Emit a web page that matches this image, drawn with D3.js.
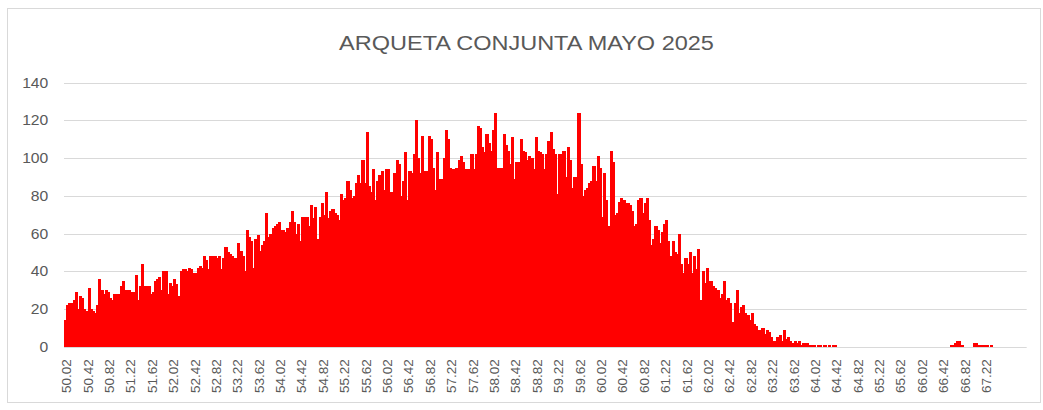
<!DOCTYPE html>
<html>
<head>
<meta charset="utf-8">
<script src="https://cdn.jsdelivr.net/npm/d3@7"></script>
<style>
  body { margin: 0; background: #fff; }
  text { font-family: "Liberation Sans", Arial, sans-serif; fill: #595959; }
</style>
</head>
<body>
<script>
const chartTitle = "ARQUETA CONJUNTA MAYO 2025";

// bins of 0.04 starting at 50.02 (counts)
const firstBin = 50.02, binStep = 0.04;
const counts = [
  14,22,23,23,25,29,20,27,26,20,
  19,31,20,19,18,22,36,30,28,30,
  29,26,25,28,28,28,32,35,30,30,
  30,29,29,38,25,32,44,32,32,32,
  28,29,35,36,37,30,40,40,28,34,
  32,36,33,27,40,41,41,40,42,41,
  39,39,42,43,42,48,46,41,48,48,
  48,47,48,41,47,53,50,49,48,47,
  47,55,51,48,40,62,58,56,42,57,
  59,51,54,56,71,58,60,63,64,65,
  66,62,62,61,63,66,72,66,60,65,
  56,69,69,69,64,75,68,74,57,69,
  76,70,82,68,72,73,71,70,67,81,
  78,79,88,83,79,80,87,91,87,99,
  87,114,85,82,94,78,88,91,93,83,
  94,94,82,82,92,99,97,80,88,103,
  78,93,92,102,120,100,92,112,93,93,
  112,110,95,83,103,89,89,100,115,110,
  95,94,94,95,99,101,98,94,94,94,
  102,94,102,117,116,106,103,113,108,104,
  115,124,95,95,95,113,107,104,97,111,
  89,98,98,110,104,103,99,101,100,94,
  111,104,103,102,94,102,109,114,105,102,
  81,102,102,104,90,106,99,84,90,90,
  124,97,80,83,84,87,88,96,88,101,
  95,69,92,78,64,104,98,70,71,77,
  79,78,76,76,75,72,64,65,78,79,
  71,76,79,67,54,57,64,62,55,61,
  65,67,56,48,56,50,49,60,44,39,
  47,44,50,39,48,41,52,25,40,34,
  42,35,35,32,31,30,26,28,35,25,
  26,23,13,23,30,18,21,22,18,17,
  14,18,12,11,9,9,10,7,9,8,
  5,3,3,5,6,3,9,4,5,3,
  2,3,2,3,1,2,2,2,1,1,
  1,0,1,1,0,1,0,1,0,1,
  1,0,0,0,0,0,0,0,0,0,
  0,0,0,0,0,0,0,0,0,0,
  0,0,0,0,0,0,0,0,0,0,
  0,0,0,0,0,0,0,0,0,0,
  0,0,0,0,0,0,0,0,0,0,
  0,0,0,0,1,1,2,3,3,1,
  0,0,0,0,0,2,2,1,1,1,
  1,1,0,1,0,0,0,0,0,0,
  0,0,0,0,0,0,0,0,0,0
];

const tickLabels = [
  "50.02","50.42","50.82","51.22","51.62","52.02","52.42","52.82","53.22","53.62","54.02",
  "54.42","54.82","55.22","55.62","56.02","56.42","56.82","57.22","57.62","58.02","58.42",
  "58.82","59.22","59.62","60.02","60.42","60.82","61.22","61.62","62.02","62.42","62.82",
  "63.22","63.62","64.02","64.42","64.82","65.22","65.62","66.02","66.42","66.82","67.22"
];
const yTicks = [0, 20, 40, 60, 80, 100, 120, 140];

const categories = counts.map((d, i) => (firstBin + i * binStep).toFixed(2));
const data = categories.map((c, i) => ({ bin: c, n: counts[i] }));

const width = 1043, height = 410;
const plotLeft = 64, plotRight = 1026.7, plotTop = 82.7, plotBottom = 346.7;
const stretch = 1.12; // text in the picture is a bit wider than the font

let svg = d3.select("body")
  .append("svg")
  .attr("width", width)
  .attr("height", height);

// chart frame
svg.append("rect")
  .attr("x", 7.5).attr("y", 8.5)
  .attr("width", 1033).attr("height", 394)
  .attr("fill", "#fff")
  .attr("stroke", "#d9d9d9");

const x = d3.scaleBand()
  .domain(categories)
  .range([plotLeft, plotRight])
  .padding(0);

const y = d3.scaleLinear()
  .domain([0, 140])
  .range([plotBottom, plotTop]);

// gridlines
svg.append("g")
  .selectAll("line")
  .data(yTicks)
  .enter()
  .append("line")
  .attr("x1", plotLeft).attr("x2", plotRight)
  .attr("y1", d => Math.round(y(d)) + 0.5).attr("y2", d => Math.round(y(d)) + 0.5)
  .attr("stroke", "#d9d9d9")
  .attr("stroke-width", 1);

// bars
svg.append("g")
  .attr("shape-rendering", "crispEdges")
  .selectAll("rect")
  .data(data.filter(d => d.n > 0))
  .enter()
  .append("rect")
  .attr("x", d => x(d.bin))
  .attr("width", x.bandwidth() + 1)
  .attr("y", d => y(d.n))
  .attr("height", d => y(0) - y(d.n))
  .attr("fill", "#ff0000");

// y axis labels
svg.append("g")
  .selectAll("text")
  .data(yTicks)
  .enter()
  .append("text")
  .attr("transform", d => "translate(48.3," + y(d) + ") scale(" + stretch + ",1)")
  .attr("dy", "0.36em")
  .style("text-anchor", "end")
  .style("font-size", "14px")
  .text(d => d);

// x axis labels
let xAxis = svg.append("g")
  .attr("transform", "translate(0," + plotBottom + ")")
  .call(d3.axisBottom(x).tickValues(tickLabels).tickSize(0));

xAxis.select(".domain").remove();
xAxis.selectAll("text")
  .attr("x", -12.6)
  .attr("y", 0)
  .attr("dy", "0.45em")
  .attr("transform", "rotate(-90)")
  .style("text-anchor", "end")
  .style("font-size", "13.5px")
  .style("font-family", "'Liberation Sans', Arial, sans-serif")
  .attr("fill", "#595959");

// title
svg.append("text")
  .attr("transform", "translate(526.5,50) scale(" + stretch + ",1)")
  .style("text-anchor", "middle")
  .style("font-size", "21px")
  .text(chartTitle);
</script>
</body>
</html>
